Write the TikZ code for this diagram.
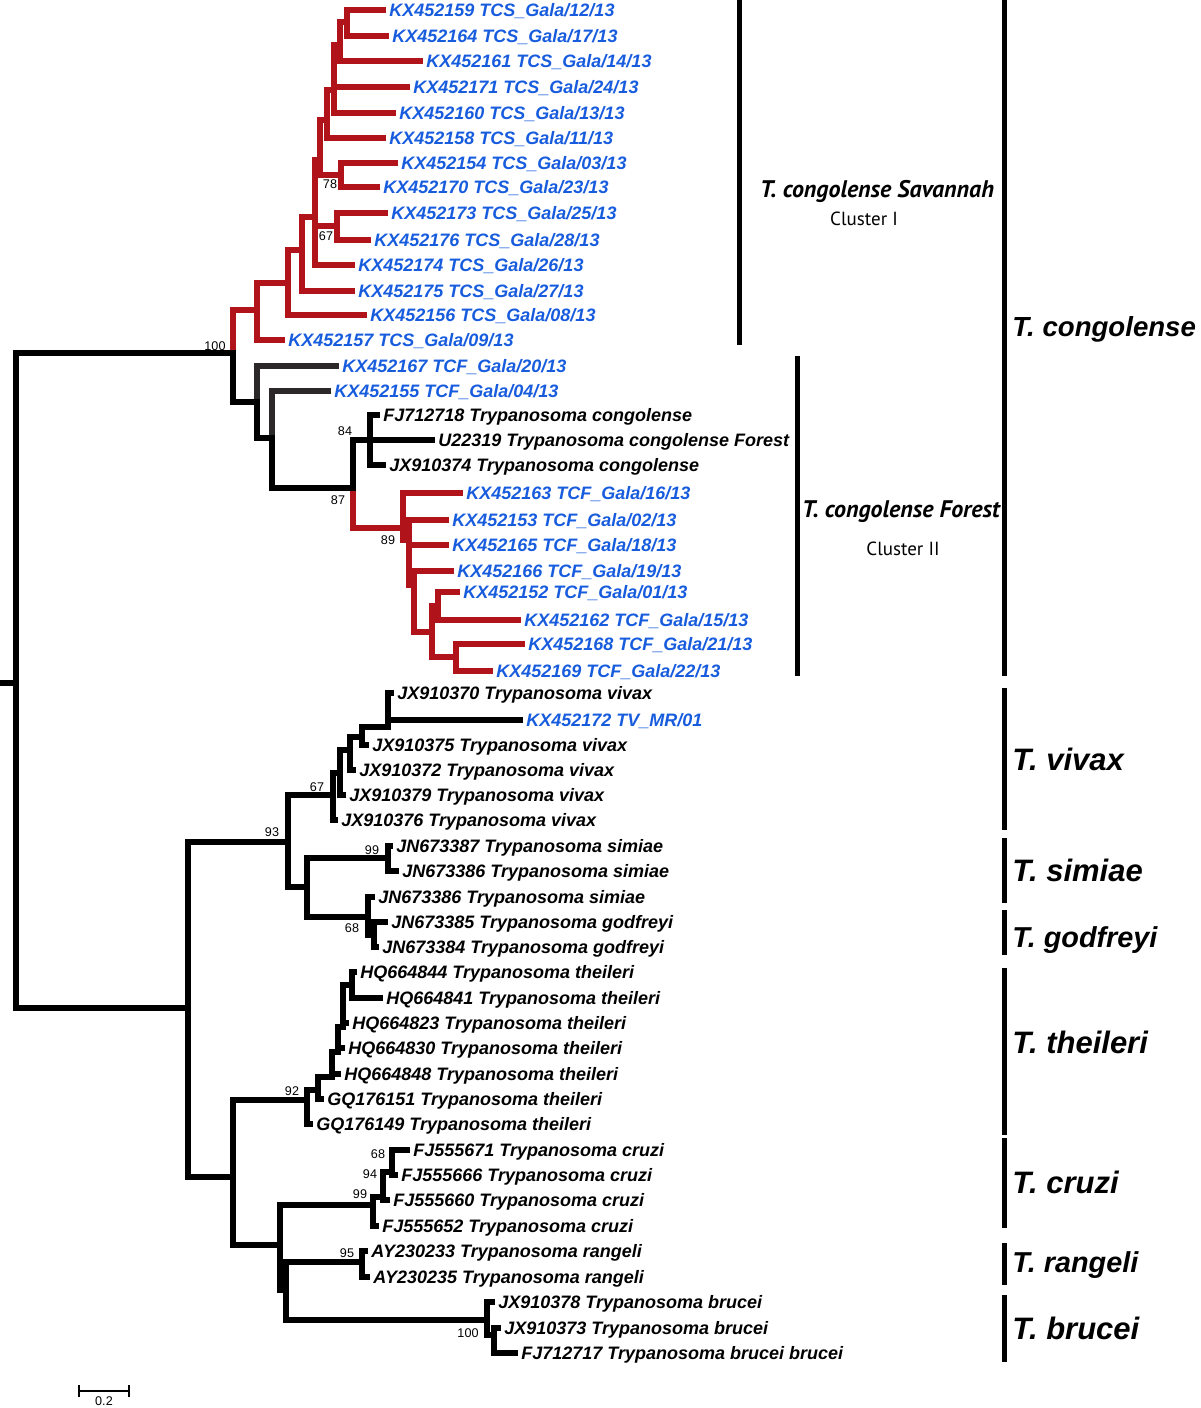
\documentclass[tikz,border=0pt]{standalone}
\usepackage{fontspec}
\setmainfont{Liberation Sans}
\newfontfamily\clusterfont{PT Sans}
\definecolor{cladered}{RGB}{176,20,26}
\definecolor{seqblue}{RGB}{24,92,222}
\definecolor{greybranch}{RGB}{44,40,42}
\begin{document}
\begin{tikzpicture}[x=0.5pt, y=-0.5pt,
  br/.style={line width=3pt, line cap=rect},
  rbr/.style={br, cladered},
  gbr/.style={br, greybranch},
  leaf/.style={anchor=west, inner xsep=3pt, inner ysep=0pt, text height=6.4pt, text depth=0pt, font=\bfseries\itshape\fontsize{9}{9}\selectfont},
  seq/.style={leaf, text=seqblue},
  boot/.style={inner sep=0pt, font=\fontsize{6.3}{6.3}\selectfont},
  clade/.style={anchor=base west, inner sep=0pt, font=\bfseries\itshape\fontsize{15.5}{15.5}\selectfont},
  cluster/.style={anchor=base, inner sep=0pt, font=\clusterfont\bfseries\itshape\fontsize{12}{12}\selectfont},
  clusternum/.style={anchor=base, inner sep=0pt, font=\clusterfont\fontsize{9.5}{9.5}\selectfont},
  bar/.style={line width=2.5pt}]
\useasboundingbox (0,0) rectangle (1200,1408);
\coordinate (r0) at (0,683);
\coordinate (n0) at (16,683);
\coordinate (nA) at (233,353);
\coordinate (nB) at (188,1008);
\coordinate (s1) at (257,310);
\coordinate (s2) at (288,283);
\coordinate (s3) at (302,250);
\coordinate (s4) at (315,217);
\coordinate (s5) at (320,160);
\coordinate (s6) at (327,120);
\coordinate (s7) at (334,90);
\coordinate (s8) at (340,45);
\coordinate (n8) at (347,22);
\coordinate (n78) at (341,175);
\coordinate (n67) at (337,226);
\coordinate (f1) at (257,402);
\coordinate (f2) at (272,438);
\coordinate (f3) at (353,488);
\coordinate (n84) at (370,440);
\coordinate (n89) at (403,528);
\coordinate (ne) at (409,540);
\coordinate (nd) at (414,585);
\coordinate (nc) at (432,632);
\coordinate (na) at (438,606);
\coordinate (nb) at (456,657);
\coordinate (nV) at (288,842);
\coordinate (v1) at (333,795);
\coordinate (v2) at (340,773);
\coordinate (v3) at (350,750);
\coordinate (v4) at (362,737);
\coordinate (v5) at (388,727);
\coordinate (nS) at (307,887);
\coordinate (n99) at (388,858);
\coordinate (n68) at (368,917);
\coordinate (n68b) at (374,935);
\coordinate (nC) at (233,1177);
\coordinate (nT) at (307,1100);
\coordinate (nT2) at (318,1090);
\coordinate (nT3) at (332,1077);
\coordinate (nT4) at (338,1052);
\coordinate (nT5) at (343,1027);
\coordinate (nT6) at (352,985);
\coordinate (nCRB) at (280,1245);
\coordinate (nCr) at (373,1205);
\coordinate (nCr2) at (383,1197);
\coordinate (nCr3) at (392,1172);
\coordinate (nRB) at (286,1290);
\coordinate (nRa) at (362,1262);
\coordinate (nBr) at (487,1320);
\coordinate (nBr2) at (494,1335);
\node[seq] (t1) at (383,10) {KX452159 TCS\_Gala/12/13};
\node[seq] (t2) at (386,36) {KX452164 TCS\_Gala/17/13};
\node[seq] (t3) at (420,61) {KX452161 TCS\_Gala/14/13};
\node[seq] (t4) at (407,87) {KX452171 TCS\_Gala/24/13};
\node[seq] (t5) at (393,113) {KX452160 TCS\_Gala/13/13};
\node[seq] (t6) at (383,138) {KX452158 TCS\_Gala/11/13};
\node[seq] (t7) at (395,163) {KX452154 TCS\_Gala/03/13};
\node[seq] (t8) at (377,187) {KX452170 TCS\_Gala/23/13};
\node[seq] (t9) at (385,213) {KX452173 TCS\_Gala/25/13};
\node[seq] (t10) at (368,240) {KX452176 TCS\_Gala/28/13};
\node[seq] (t11) at (352,265) {KX452174 TCS\_Gala/26/13};
\node[seq] (t12) at (352,291) {KX452175 TCS\_Gala/27/13};
\node[seq] (t13) at (364,315) {KX452156 TCS\_Gala/08/13};
\node[seq] (t14) at (282,340) {KX452157 TCS\_Gala/09/13};
\node[seq] (t15) at (336,366) {KX452167 TCF\_Gala/20/13};
\node[seq] (t16) at (328,391) {KX452155 TCF\_Gala/04/13};
\node[leaf] (t17) at (377,415) {FJ712718 Trypanosoma congolense};
\node[leaf] (t18) at (432,440) {U22319 Trypanosoma congolense Forest};
\node[leaf] (t19) at (383,465) {JX910374 Trypanosoma congolense};
\node[seq] (t20) at (460,493) {KX452163 TCF\_Gala/16/13};
\node[seq] (t21) at (446,520) {KX452153 TCF\_Gala/02/13};
\node[seq] (t22) at (446,545) {KX452165 TCF\_Gala/18/13};
\node[seq] (t23) at (451,571) {KX452166 TCF\_Gala/19/13};
\node[seq] (t24) at (457,592) {KX452152 TCF\_Gala/01/13};
\node[seq] (t25) at (518,620) {KX452162 TCF\_Gala/15/13};
\node[seq] (t26) at (522,644) {KX452168 TCF\_Gala/21/13};
\node[seq] (t27) at (490,671) {KX452169 TCF\_Gala/22/13};
\node[leaf] (t28) at (391,693) {JX910370 Trypanosoma vivax};
\node[seq] (t29) at (520,720) {KX452172 TV\_MR/01};
\node[leaf] (t30) at (366,745) {JX910375 Trypanosoma vivax};
\node[leaf] (t31) at (353,770) {JX910372 Trypanosoma vivax};
\node[leaf] (t32) at (343,795) {JX910379 Trypanosoma vivax};
\node[leaf] (t33) at (335,820) {JX910376 Trypanosoma vivax};
\node[leaf] (t34) at (390,846) {JN673387 Trypanosoma simiae};
\node[leaf] (t35) at (396,871) {JN673386 Trypanosoma simiae};
\node[leaf] (t36) at (372,897) {JN673386 Trypanosoma simiae};
\node[leaf] (t37) at (385,922) {JN673385 Trypanosoma godfreyi};
\node[leaf] (t38) at (376,947) {JN673384 Trypanosoma godfreyi};
\node[leaf] (t39) at (354,972) {HQ664844 Trypanosoma theileri};
\node[leaf] (t40) at (380,998) {HQ664841 Trypanosoma theileri};
\node[leaf] (t41) at (346,1023) {HQ664823 Trypanosoma theileri};
\node[leaf] (t42) at (342,1048) {HQ664830 Trypanosoma theileri};
\node[leaf] (t43) at (338,1074) {HQ664848 Trypanosoma theileri};
\node[leaf] (t44) at (321,1099) {GQ176151 Trypanosoma theileri};
\node[leaf] (t45) at (310,1124) {GQ176149 Trypanosoma theileri};
\node[leaf] (t46) at (407,1150) {FJ555671 Trypanosoma cruzi};
\node[leaf] (t47) at (395,1175) {FJ555666 Trypanosoma cruzi};
\node[leaf] (t48) at (387,1200) {FJ555660 Trypanosoma cruzi};
\node[leaf] (t49) at (376,1226) {FJ555652 Trypanosoma cruzi};
\node[leaf] (t50) at (365,1251) {AY230233 Trypanosoma rangeli};
\node[leaf] (t51) at (367,1277) {AY230235 Trypanosoma rangeli};
\node[leaf] (t52) at (492,1302) {JX910378 Trypanosoma brucei};
\node[leaf] (t53) at (498,1328) {JX910373 Trypanosoma brucei};
\node[leaf] (t54) at (515,1353) {FJ712717 Trypanosoma brucei brucei};
\draw[rbr] (nA) |- (s1);
\draw[rbr] (s1) |- (t14);
\draw[rbr] (s1) |- (s2);
\draw[rbr] (s2) |- (t13);
\draw[rbr] (s2) |- (s3);
\draw[rbr] (s3) |- (t12);
\draw[rbr] (s3) |- (s4);
\draw[rbr] (s4) |- (t11);
\draw[rbr] (s4) |- (n67);
\draw[rbr] (s4) |- (s5);
\draw[rbr] (n67) |- (t9);
\draw[rbr] (n67) |- (t10);
\draw[rbr] (s5) |- (s6);
\draw[rbr] (s5) |- (n78);
\draw[rbr] (n78) |- (t7);
\draw[rbr] (n78) |- (t8);
\draw[rbr] (s6) |- (s7);
\draw[rbr] (s6) |- (t6);
\draw[rbr] (s7) |- (s8);
\draw[rbr] (s7) |- (t4);
\draw[rbr] (s7) |- (t5);
\draw[rbr] (s8) |- (n8);
\draw[rbr] (s8) |- (t3);
\draw[rbr] (n8) |- (t1);
\draw[rbr] (n8) |- (t2);
\draw[rbr] (f3) |- (n89);
\draw[rbr] (n89) |- (t20);
\draw[rbr] (n89) |- (ne);
\draw[rbr] (ne) |- (t21);
\draw[rbr] (ne) |- (t22);
\draw[rbr] (ne) |- (nd);
\draw[rbr] (nd) |- (t23);
\draw[rbr] (nd) |- (nc);
\draw[rbr] (nc) |- (na);
\draw[rbr] (nc) |- (nb);
\draw[rbr] (na) |- (t24);
\draw[rbr] (na) |- (t25);
\draw[rbr] (nb) |- (t26);
\draw[rbr] (nb) |- (t27);
\draw[gbr] (f1) |- (t15);
\draw[gbr] (f2) |- (t16);
\draw[br] (r0) -- (n0);
\draw[br] (n0) |- (nA);
\draw[br] (n0) |- (nB);
\draw[br] (nA) |- (f1);
\draw[br] (f1) |- (f2);
\draw[br] (f2) |- (f3);
\draw[br] (f3) |- (n84);
\draw[br] (n84) |- (t17);
\draw[br] (n84) |- (t18);
\draw[br] (n84) |- (t19);
\draw[br] (nB) |- (nV);
\draw[br] (nB) |- (nC);
\draw[br] (nV) |- (v1);
\draw[br] (nV) |- (nS);
\draw[br] (v1) |- (t33);
\draw[br] (v1) |- (v2);
\draw[br] (v2) |- (t32);
\draw[br] (v2) |- (v3);
\draw[br] (v3) |- (t31);
\draw[br] (v3) |- (v4);
\draw[br] (v4) |- (t30);
\draw[br] (v4) |- (v5);
\draw[br] (v5) |- (t28);
\draw[br] (v5) |- (t29);
\draw[br] (nS) |- (n99);
\draw[br] (nS) |- (n68);
\draw[br] (n99) |- (t34);
\draw[br] (n99) |- (t35);
\draw[br] (n68) |- (t36);
\draw[br] (n68) |- (n68b);
\draw[br] (n68b) |- (t37);
\draw[br] (n68b) |- (t38);
\draw[br] (nC) |- (nT);
\draw[br] (nC) |- (nCRB);
\draw[br] (nT) |- (t45);
\draw[br] (nT) |- (nT2);
\draw[br] (nT2) |- (t44);
\draw[br] (nT2) |- (nT3);
\draw[br] (nT3) |- (t43);
\draw[br] (nT3) |- (nT4);
\draw[br] (nT4) |- (t42);
\draw[br] (nT4) |- (nT5);
\draw[br] (nT5) |- (t41);
\draw[br] (nT5) |- (nT6);
\draw[br] (nT6) |- (t39);
\draw[br] (nT6) |- (t40);
\draw[br] (nCRB) |- (nCr);
\draw[br] (nCRB) |- (nRB);
\draw[br] (nCr) |- (t49);
\draw[br] (nCr) |- (nCr2);
\draw[br] (nCr2) |- (t48);
\draw[br] (nCr2) |- (nCr3);
\draw[br] (nCr3) |- (t46);
\draw[br] (nCr3) |- (t47);
\draw[br] (nRB) |- (nRa);
\draw[br] (nRB) |- (nBr);
\draw[br] (nRa) |- (t50);
\draw[br] (nRa) |- (t51);
\draw[br] (nBr) |- (t52);
\draw[br] (nBr) |- (nBr2);
\draw[br] (nBr2) |- (t53);
\draw[br] (nBr2) |- (t54);
\node[boot] (b1) at (215,346) {100};
\node[boot] (b2) at (330,184) {78};
\node[boot] (b3) at (326,236) {67};
\node[boot] (b4) at (345,431) {84};
\node[boot] (b5) at (338,500) {87};
\node[boot] (b6) at (388,540) {89};
\node[boot] (b7) at (317,787) {67};
\node[boot] (b8) at (272,832) {93};
\node[boot] (b9) at (372,850) {99};
\node[boot] (b10) at (352,928) {68};
\node[boot] (b11) at (292,1091) {92};
\node[boot] (b12) at (378,1154) {68};
\node[boot] (b13) at (370,1174) {94};
\node[boot] (b14) at (360,1194) {99};
\node[boot] (b15) at (347,1253) {95};
\node[boot] (b16) at (468,1333) {100};
\draw[bar] (739,0) -- (739,345);
\draw[bar] (797,356) -- (797,676);
\node[cluster] (savlab) at (877,197) {T. congolense Savannah};
\node[clusternum] (savnum) at (864,225) {Cluster I};
\node[cluster] (forlab) at (901,517) {T. congolense Forest};
\node[clusternum] (fornum) at (903,555) {Cluster II};
\draw[bar] (1004,0) -- (1004,676);
\draw[bar] (1004,688) -- (1004,830);
\draw[bar] (1004,838) -- (1004,903);
\draw[bar] (1004,910) -- (1004,955);
\draw[bar] (1004,968) -- (1004,1135);
\draw[bar] (1004,1138) -- (1004,1228);
\draw[bar] (1004,1243) -- (1004,1285);
\draw[bar] (1004,1295) -- (1004,1362);
\node[clade, font=\bfseries\itshape\fontsize{13.8}{13.8}\selectfont] (cong) at (1012,336) {T. congolense};
\node[clade] (viv) at (1012,770) {T. vivax};
\node[clade] (sim) at (1012,881) {T. simiae};
\node[clade, font=\bfseries\itshape\fontsize{14.4}{14.4}\selectfont] (god) at (1012,947) {T. godfreyi};
\node[clade] (the) at (1012,1053) {T. theileri};
\node[clade] (cru) at (1012,1193) {T. cruzi};
\node[clade, font=\bfseries\itshape\fontsize{14.4}{14.4}\selectfont] (ran) at (1012,1272) {T. rangeli};
\node[clade] (bru) at (1012,1339) {T. brucei};
\coordinate (sb0) at (79,1391);
\coordinate (sb1) at (129,1391);
\draw[line width=1pt] (sb0) -- (sb1);
\draw[line width=1pt] (79,1385) -- (79,1397);
\draw[line width=1pt] (129,1385) -- (129,1397);
\node[boot] (sblab) at (104,1401) {0.2};
\end{tikzpicture}
\end{document}
